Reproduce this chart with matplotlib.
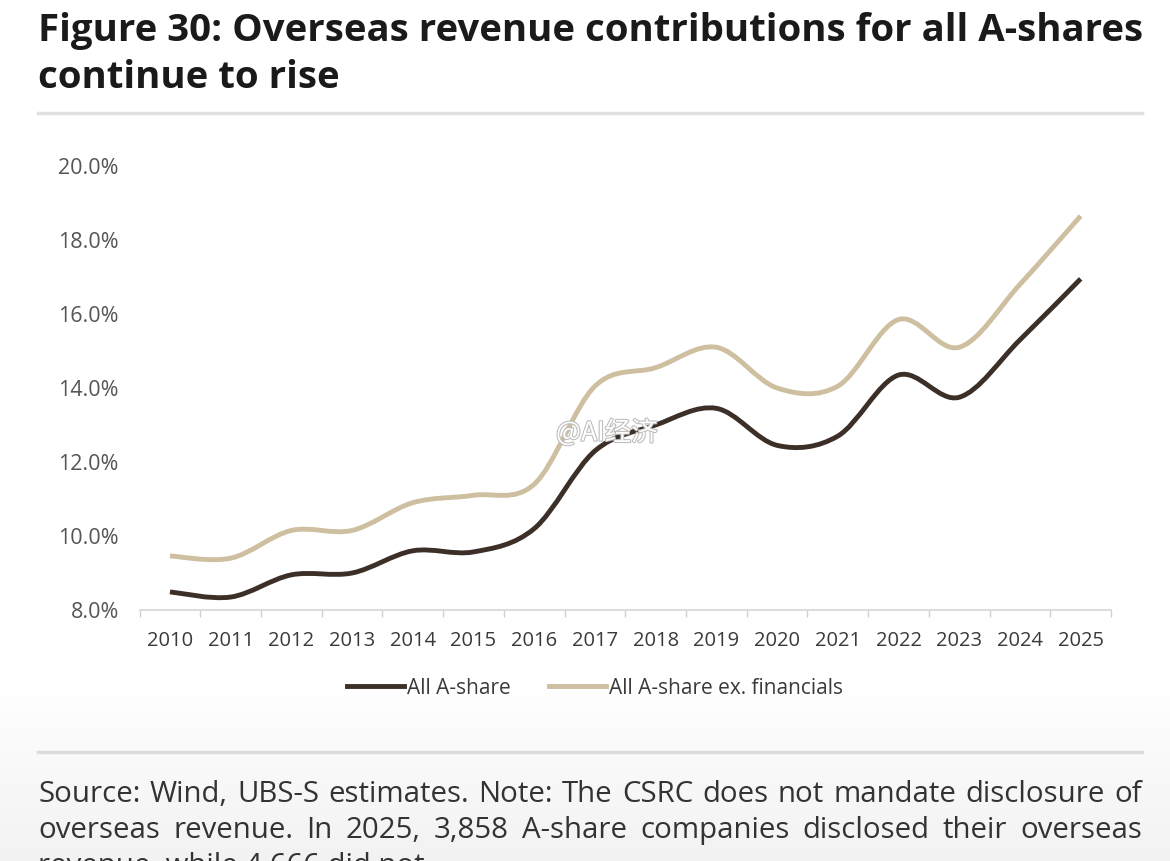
import matplotlib
matplotlib.use("Agg")
import matplotlib.pyplot as plt
import numpy as np
from matplotlib.path import Path
from matplotlib.patches import PathPatch
from matplotlib.lines import Line2D
import matplotlib.patheffects as pe

years = ["2010", "2011", "2012", "2013", "2014", "2015", "2016", "2017",
         "2018", "2019", "2020", "2021", "2022", "2023", "2024", "2025"]
all_a_share = [8.49, 8.35, 8.95, 9.00, 9.60, 9.57, 10.2, 12.3,
               13.0, 13.45, 12.45, 12.7, 14.35, 13.75, 15.3, 16.95]
all_a_share_ex_fin = [9.46, 9.40, 10.15, 10.15, 10.9, 11.1, 11.4, 14.05,
                      14.55, 15.1, 14.0, 14.05, 15.85, 15.1, 16.8, 18.65]
yticks = [8, 10, 12, 14, 16, 18, 20]
ytick_labels = ["8.0%", "10.0%", "12.0%", "14.0%", "16.0%", "18.0%", "20.0%"]
series_names = ["All A-share", "All A-share ex. financials"]
title_lines = ["Figure 30: Overseas revenue contributions for all A-shares",
               "continue to rise"]
src_lines = [
    "Source: Wind, UBS-S estimates. Note: The CSRC does not mandate disclosure of",
    "overseas revenue. In 2025, 3,858 A-share companies disclosed their overseas",
    "revenue, while 4,666 did not.",
]

DARK = "#3b2f27"
LIGHT = "#cdbf9f"
FONT = ["Open Sans", "DejaVu Sans"]
plt.rcParams["font.family"] = FONT

W, H = 1170, 861
fig = plt.figure(figsize=(W / 100, H / 100), dpi=100)
fig.patch.set_facecolor("white")

# soft grey gradient in the lower part
grad_ax = fig.add_axes([0, 0, 1, 1], zorder=-10)
rows = np.linspace(0, 1, 300)
shade = np.where(rows < 0.2, 0.95 + (rows / 0.2) * 0.05, 1.0)
grad_ax.imshow(np.dstack([shade[:, None]] * 3), aspect="auto", extent=[0, 1, 0, 1],
               origin="lower")
grad_ax.axis("off")

left = 139.6 / W
right = 1111 / W
bottom = 1 - 610 / H
top = 1 - 166 / H
ax = fig.add_axes([left, bottom, right - left, top - bottom])
ax.set_facecolor("none")

x = np.arange(len(years))


def smooth_path(xs, ys):
    pts = np.column_stack([xs, ys]).astype(float)
    n = len(pts)
    verts = [pts[0]]
    codes = [Path.MOVETO]
    for i in range(n - 1):
        p0 = pts[i - 1] if i > 0 else pts[i]
        p1 = pts[i]
        p2 = pts[i + 1]
        p3 = pts[i + 2] if i + 2 < n else pts[i + 1]
        c1 = p1 + (p2 - p0) / 6.0
        c2 = p2 - (p3 - p1) / 6.0
        verts += [c1, c2, p2]
        codes += [Path.CURVE4] * 3
    return Path(verts, codes)


for vals, col in [(all_a_share_ex_fin, LIGHT), (all_a_share, DARK)]:
    patch = PathPatch(smooth_path(x, vals), facecolor="none", edgecolor=col,
                      lw=3.5, capstyle="butt", joinstyle="round", zorder=3)
    ax.add_patch(patch)

ax.set_xlim(-0.5, len(years) - 0.5)
ax.set_ylim(8, 20)
ax.set_yticks(yticks)
ax.set_yticklabels(ytick_labels)
ax.set_xticks(x)
ax.set_xticklabels(years)
ax.set_xticks(np.arange(-0.5, len(years)), minor=True)
ax.tick_params(axis="x", which="major", length=0, pad=15, labelsize=14.5,
               labelcolor="#3a3a3a")
ax.tick_params(axis="x", which="minor", length=5, color="#d0d0d0", width=1)
ax.tick_params(axis="y", length=0, pad=15, labelsize=15.5, labelcolor="#555555")
for s in ["top", "right", "left"]:
    ax.spines[s].set_visible(False)
ax.spines["bottom"].set_color("#d6d6d6")
ax.spines["bottom"].set_linewidth(1.2)

handles = [Line2D([], [], color=DARK, lw=3.5), Line2D([], [], color=LIGHT, lw=3.5)]
fig.legend(handles, series_names, loc="center", bbox_to_anchor=(595 / W, 1 - 688 / H),
           ncol=2, frameon=False, fontsize=15, handlelength=2.75, handletextpad=0.15,
           columnspacing=1.8, labelcolor="#3a3a3a", borderpad=0, borderaxespad=0)

# Title
fig.text(38 / W, 1 - 41 / H, title_lines[0], fontsize=27.6, fontweight="bold",
         color="#1a1a1a", va="baseline", ha="left")
fig.text(38 / W, 1 - 88 / H, title_lines[1], fontsize=27.6, fontweight="bold",
         color="#1a1a1a", va="baseline", ha="left")

# separators
fig.add_artist(Line2D([38 / W, 1142 / W], [1 - 113 / H, 1 - 113 / H], color="#e0e0e0", lw=2.5))
fig.add_artist(Line2D([38 / W, 1142 / W], [1 - 752 / H, 1 - 752 / H], color="#dcdcdc", lw=2.5))

# Source note, justified across 38..1142 px
renderer = fig.canvas.get_renderer()
x0, x1 = 38, 1142
baselines = [802, 838, 874]
src_size = 21.2
for li, (line, yb) in enumerate(zip(src_lines, baselines)):
    words = line.split(" ")
    if li < len(src_lines) - 1:
        arts = [fig.text(0, 1 - yb / H, w, fontsize=src_size, color="#333333",
                         va="baseline", ha="left") for w in words]
        widths = [a.get_window_extent(renderer).width for a in arts]
        gap = (x1 - x0 - sum(widths)) / (len(words) - 1)
        pos = x0
        for a, wd in zip(arts, widths):
            a.set_x(pos / W)
            pos += wd + gap
    else:
        fig.text(x0 / W, 1 - yb / H, line, fontsize=src_size, color="#333333",
                 va="baseline", ha="left")

# watermark
fig.text(556 / W, 1 - 433 / H, "@AI经济", fontsize=19, color="white",
         family=["Noto Sans CJK SC", "DejaVu Sans"], va="center", ha="left",
         path_effects=[pe.withStroke(linewidth=1.5, foreground="#bbbbbb")], zorder=10)

fig.savefig("out.png", dpi=100, facecolor=fig.get_facecolor())
